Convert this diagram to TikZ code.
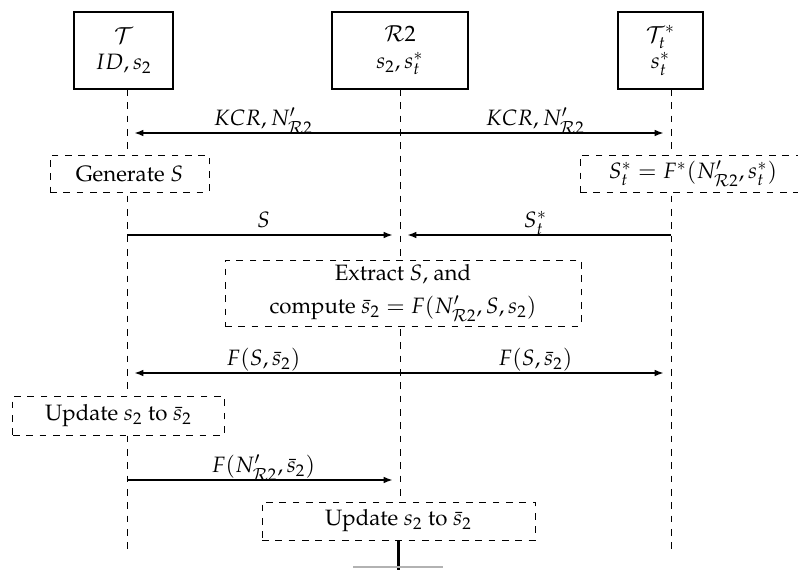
\documentclass[tikz,border=0pt]{standalone}
\usepackage[T1]{fontenc}
\usepackage{mathpazo}
\usetikzlibrary{arrows.meta}
\begin{document}
\def\px{0.45pt}
\begin{tikzpicture}[x=0.45pt,y=-0.45pt,
  actor/.style={draw, line width=0.65pt, align=center, minimum height=77*\px, inner sep=0pt},
  proc/.style={draw, dashed, line width=0.45pt, fill=white, align=center, inner sep=0pt},
  life/.style={dashed, line width=0.45pt},
  msg/.style={-{Latex[length=4pt,width=3pt]}, line width=0.5pt, shorten >=3.4pt},
  lbl/.style={anchor=base, yshift=3.3pt, inner sep=0pt}]
\useasboundingbox (0,0) rectangle (798,570);

% actors
\node[actor, minimum width=99*\px]  (T)  at (123.5,50.5) {$\mathcal{T}$\\ $ID, s_2$};
\node[actor, minimum width=136*\px] (R)  at (400,50.5)   {$\mathcal{R}2$\\ $s_2, s_t^*$};
\node[actor, minimum width=85*\px]  (Ts) at (660.5,50.5) {$\mathcal{T}_t^*$\\ $s_t^*$};

% lifelines
\coordinate (lT0) at (127,89);  \coordinate (lT1) at (127,555);
\coordinate (lR0) at (400,89);  \coordinate (lR1) at (400,540);
\coordinate (lS0) at (671,89);  \coordinate (lS1) at (671,550);
\draw[life] (lT0) -- (lT1);
\draw[life] (lR0) -- (lR1);
\draw[life] (lS0) -- (lS1);

% process boxes
\node[proc, minimum width=159*\px, minimum height=37*\px] (gen) at (129.5,173.5) {Generate $S$};
\node[proc, minimum width=226*\px, minimum height=37*\px] (fst) at (693,173.5) {$S_t^* = F^*(N'_{\mathcal{R}2}, s_t^*)$};
\node[proc, minimum width=356*\px, minimum height=66*\px] (ext) at (403,293) {Extract $S$, and\\[3pt] compute $\bar{s}_2 = F(N'_{\mathcal{R}2}, S, s_2)$};
\node[proc, minimum width=211*\px, minimum height=39*\px] (up1) at (118.5,415.5) {Update $s_2$ to $\bar{s}_2$};
\node[proc, minimum width=273*\px, minimum height=38*\px] (up2) at (398.5,521) {Update $s_2$ to $\bar{s}_2$};

% messages
\coordinate (aT) at (127,133); \coordinate (aR) at (400,133); \coordinate (aS) at (671,133);
\draw[msg] (aR) -- node[lbl] {$KCR, N'_{\mathcal{R}2}$} (aT);
\draw[msg] (aR) -- node[lbl] {$KCR, N'_{\mathcal{R}2}$} (aS);

\coordinate (bT) at (127,235); \coordinate (bR) at (400,235); \coordinate (bS) at (671,235);
\draw[msg] (bT) -- node[lbl] {$S$} (bR);
\draw[msg] (bS) -- node[lbl] {$S_t^*$} (bR);

\coordinate (cT) at (127,373); \coordinate (cR) at (400,373); \coordinate (cS) at (671,373);
\draw[msg] (cR) -- node[lbl] {$F(S, \bar{s}_2)$} (cT);
\draw[msg] (cR) -- node[lbl] {$F(S, \bar{s}_2)$} (cS);

\coordinate (dT) at (127,480); \coordinate (dR) at (400,480);
\draw[msg] (dT) -- node[lbl] {$F(N'_{\mathcal{R}2}, \bar{s}_2)$} (dR);

% bottom stub
\coordinate (stub) at (398.5,570);
\draw[line width=1.3pt] (up2.south) -- (stub);
\coordinate (g0) at (353,567); \coordinate (g1) at (443,567);
\draw[gray!60, line width=0.6pt] (g0) -- (g1);
\end{tikzpicture}
\end{document}
